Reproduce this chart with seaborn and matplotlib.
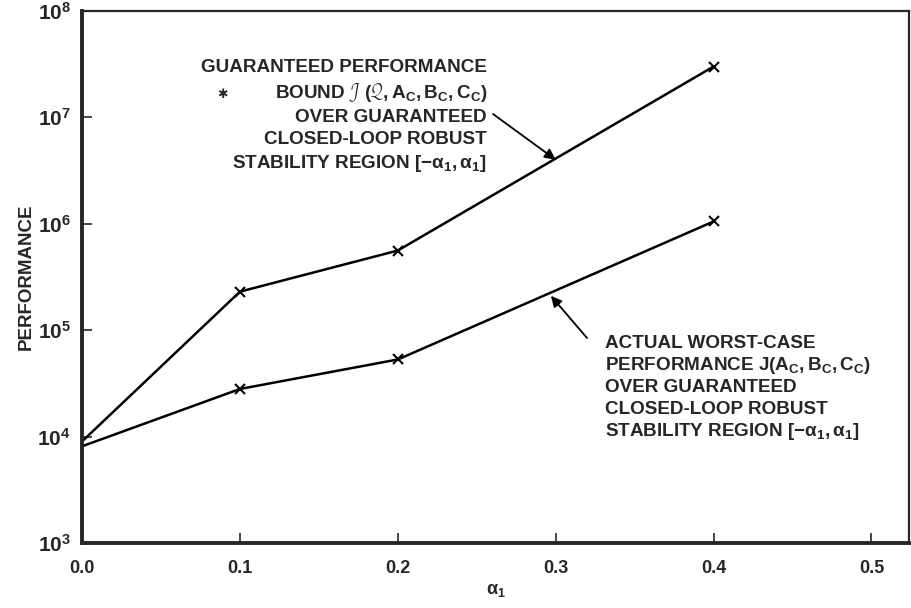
import matplotlib
matplotlib.use('Agg')
import matplotlib.pyplot as plt
import seaborn as sns
import pandas as pd
import numpy as np

# values
alpha = [0.0, 0.1, 0.2, 0.4]
bound_perf = [9.0e3, 2.3e5, 5.6e5, 3.0e7]      # guaranteed performance bound
actual_perf = [8.1e3, 2.8e4, 5.3e4, 1.05e6]    # actual worst-case performance

x_ticks = [0.0, 0.1, 0.2, 0.3, 0.4, 0.5]
y_ticks = [1e3, 1e4, 1e5, 1e6, 1e7, 1e8]
y_tick_labels = [r'$10^{3}$', r'$10^{4}$', r'$10^{5}$', r'$10^{6}$', r'$10^{7}$', r'$10^{8}$']

sns.set_style('ticks')
plt.rcParams['font.family'] = ['Liberation Sans', 'DejaVu Sans']
plt.rcParams['font.weight'] = 'bold'
plt.rcParams['mathtext.fontset'] = 'custom'
plt.rcParams['mathtext.rm'] = 'Liberation Sans:bold'
plt.rcParams['mathtext.bf'] = 'Liberation Sans:bold'
plt.rcParams['mathtext.it'] = 'Liberation Sans:italic:bold'
plt.rcParams['mathtext.sf'] = 'Liberation Sans:bold'
plt.rcParams['mathtext.default'] = 'rm'

df = pd.DataFrame({
    'alpha': alpha * 2,
    'performance': bound_perf + actual_perf,
    'curve': ['bound'] * len(alpha) + ['actual'] * len(alpha),
})

fig = plt.figure(figsize=(9.12, 6.08), dpi=100)
ax = fig.add_axes([0.090, 0.107, 0.907, 0.875])

for name in ['bound', 'actual']:
    sub = df[df['curve'] == name]
    sns.lineplot(data=sub, x='alpha', y='performance', ax=ax, color='black',
                 linewidth=1.8, marker='x', markersize=7, markeredgewidth=1.5,
                 markeredgecolor='black', markevery=[1, 2, 3], legend=False)

ax.set_yscale('log')
ax.set_xlim(0.0, 0.524)
ax.set_ylim(1e3, 1e8)
ax.set_xticks(x_ticks)
ax.set_xticklabels([f'{t:.1f}' for t in x_ticks], fontsize=13, fontweight='bold')
ax.set_yticks(y_ticks)
ax.set_yticklabels(y_tick_labels, fontsize=15)
ax.minorticks_off()
ax.tick_params(direction='in', length=7, width=1.2, pad=8)
ax.tick_params(axis='x', pad=12)

for side in ['left', 'bottom']:
    ax.spines[side].set_linewidth(2.8)
for side in ['top', 'right']:
    ax.spines[side].set_linewidth(1.6)

ax.set_xlabel(r'$\alpha_1$', fontsize=13, labelpad=4)
ax.set_ylabel('PERFORMANCE', fontsize=13.5, fontweight='bold', labelpad=2)

# upper annotation
upper_lines = [
    'GUARANTEED PERFORMANCE',
    r'BOUND $\mathcal{J}$ $(\mathcal{Q},A_C,B_C,C_C)$',
    'OVER GUARANTEED',
    'CLOSED-LOOP ROBUST',
    r'STABILITY REGION $[-\alpha_1,\alpha_1]$',
]
upper_y = [67, 93, 117, 140, 163]
for txt, yp in zip(upper_lines, upper_y):
    fig.text(487 / 912, 1 - yp / 608, txt, ha='right', va='center',
             fontsize=13.6, fontweight='bold')
fig.text(222 / 912, 1 - 95 / 608, '✱', ha='center', va='center',
         fontsize=9, family=['DejaVu Sans'])

lower_lines = [
    'ACTUAL WORST-CASE',
    r'PERFORMANCE J$(A_C,B_C,C_C)$',
    'OVER GUARANTEED',
    'CLOSED-LOOP ROBUST',
    r'STABILITY REGION $[-\alpha_1,\alpha_1]$',
]
lower_y = [343, 365, 387, 409, 431]
for txt, yp in zip(lower_lines, lower_y):
    fig.text(605 / 912, 1 - yp / 608, txt, ha='left', va='center',
             fontsize=13.6, fontweight='bold')

# arrows pointing to curves
ax.annotate('', xy=(0.3, 4.0e6), xycoords='data',
            xytext=(493 / 912, 1 - 114 / 608), textcoords='figure fraction',
            arrowprops=dict(arrowstyle='-|>', color='black', lw=1.3,
                            mutation_scale=16, shrinkA=0, shrinkB=0))
ax.annotate('', xy=(0.297, 2.1e5), xycoords='data',
            xytext=(587 / 912, 1 - 338 / 608), textcoords='figure fraction',
            arrowprops=dict(arrowstyle='-|>', color='black', lw=1.3,
                            mutation_scale=16, shrinkA=0, shrinkB=0))

plt.savefig('out.png', dpi=100)
plt.close()
